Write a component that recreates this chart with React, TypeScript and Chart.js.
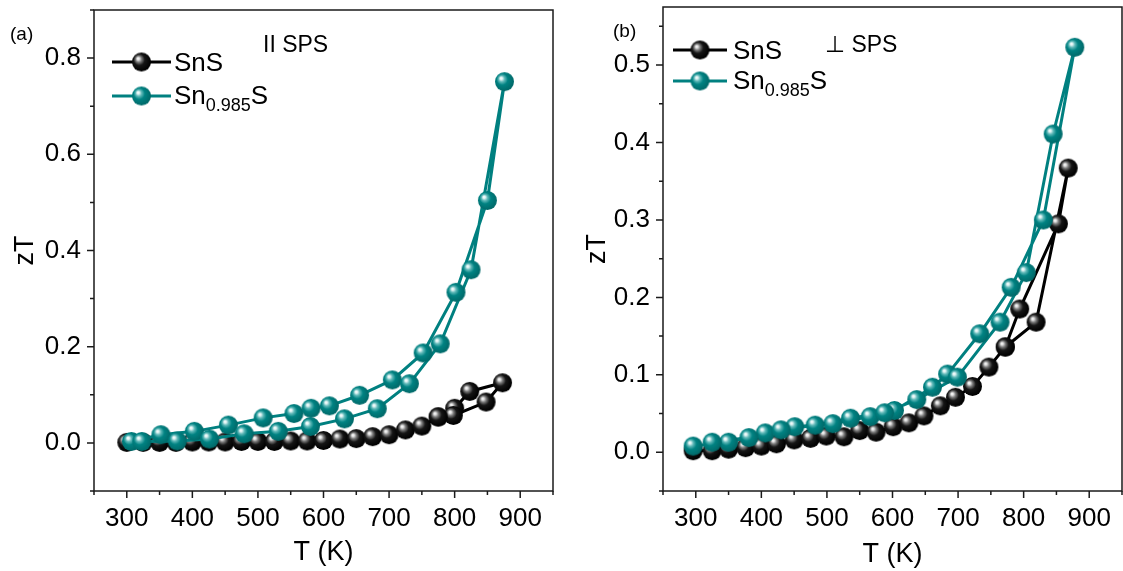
import React, { useEffect, useRef } from "react";
import { Chart, registerables } from "chart.js";

Chart.register(...registerables);

const FONT = '"Liberation Sans", Arial, Helvetica, sans-serif';
const TEAL = "#008080";
const BLACK = "#000000";

// ---------- Panel (a): parallel to SPS ----------
const A_SNS_T = [300, 325, 350, 375, 400, 425, 450, 475, 500, 525, 550, 575, 600, 625, 650, 675, 700, 725, 750, 775, 800, 823, 873, 848, 798, 775];
const A_SNS_ZT = [0.001, 0.001, 0.001, 0.001, 0.002, 0.002, 0.002, 0.003, 0.003, 0.003, 0.004, 0.004, 0.005, 0.008, 0.009, 0.013, 0.017, 0.027, 0.035, 0.054, 0.072, 0.107, 0.125, 0.085, 0.057, 0.054];
const A_SN985_T = [307, 352, 403, 455, 508, 555, 581, 609, 655, 705, 752, 802, 850, 876, 825, 778, 731, 682, 632, 580, 531, 479, 426, 377, 323];
const A_SN985_ZT = [0.003, 0.017, 0.024, 0.037, 0.052, 0.061, 0.072, 0.077, 0.099, 0.131, 0.187, 0.313, 0.504, 0.751, 0.36, 0.206, 0.123, 0.071, 0.05, 0.034, 0.024, 0.019, 0.008, 0.004, 0.003];

// ---------- Panel (b): perpendicular to SPS ----------
const B_SNS_T = [296, 325, 350, 376, 400, 423, 450, 475, 499, 526, 550, 575, 601, 625, 648, 673, 696, 722, 747, 772, 794, 853, 868, 819, 772];
const B_SNS_ZT = [0.002, 0.002, 0.004, 0.006, 0.008, 0.011, 0.016, 0.018, 0.021, 0.02, 0.028, 0.026, 0.033, 0.038, 0.047, 0.06, 0.071, 0.085, 0.11, 0.136, 0.185, 0.295, 0.367, 0.168, 0.136];
const B_SN985_T = [296, 350, 406, 451, 509, 566, 603, 661, 684, 733, 781, 830, 878, 845, 804, 764, 699, 637, 588, 536, 482, 430, 381, 325];
const B_SN985_ZT = [0.008, 0.013, 0.025, 0.033, 0.037, 0.046, 0.054, 0.084, 0.101, 0.153, 0.213, 0.3, 0.523, 0.411, 0.232, 0.168, 0.097, 0.068, 0.051, 0.044, 0.035, 0.029, 0.019, 0.013];

const X_TICKS = [300, 400, 500, 600, 700, 800, 900];
const A_Y_TICKS = [0.0, 0.2, 0.4, 0.6, 0.8];
const B_Y_TICKS = [0.0, 0.1, 0.2, 0.3, 0.4, 0.5];

const SERIES_NAMES = ["SnS", "Sn", "0.985", "S"];

function zip(xs: number[], ys: number[]) {
  return xs.map((x, i) => ({ x, y: ys[i] }));
}

function sphere(kind: "black" | "teal", r: number): HTMLCanvasElement {
  const size = Math.ceil(r * 2 + 2);
  const c = document.createElement("canvas");
  c.width = size;
  c.height = size;
  const ctx = c.getContext("2d")!;
  const cx = size / 2;
  const cy = size / 2;
  const g = ctx.createRadialGradient(cx - r * 0.38, cy - r * 0.38, 0, cx - r * 0.12, cy - r * 0.12, r * 1.08);
  if (kind === "black") {
    g.addColorStop(0, "#ffffff");
    g.addColorStop(0.12, "#e6e6e6");
    g.addColorStop(0.3, "#7a7a7a");
    g.addColorStop(0.55, "#151515");
    g.addColorStop(1, "#000000");
  } else {
    g.addColorStop(0, "#ffffff");
    g.addColorStop(0.12, "#e3f5f5");
    g.addColorStop(0.3, "#5fb8b8");
    g.addColorStop(0.55, "#008282");
    g.addColorStop(1, "#006a6a");
  }
  ctx.fillStyle = g;
  ctx.beginPath();
  ctx.arc(cx, cy, r, 0, Math.PI * 2);
  ctx.fill();
  return c;
}

interface PanelSpec {
  width: number;
  yAxisWidth: number;
  padRight: number;
  padTop: number;
  yMin: number;
  yMax: number;
  yMinorStep: number;
  yTicks: number[];
  yTitlePad: number;
  xTitlePad: number;
  sns: { x: number; y: number }[];
  sn985: { x: number; y: number }[];
  tag: string;
  tagX: number;
  tagY: number;
  note: string;
  noteX: number;
  noteY: number;
  legX1: number;
  legX2: number;
  legRow1: number;
  legRow2: number;
  legTextX: number;
  legBase1: number;
  legBase2: number;
}

function makeChart(canvas: HTMLCanvasElement, p: PanelSpec) {
  const blackBall = sphere("black", 9.5);
  const tealBall = sphere("teal", 9.5);

  const decor = {
    id: "decor",
    afterDraw(chart: any) {
      const { ctx, chartArea } = chart;
      const xs = chart.scales.x;
      const ys = chart.scales.y;
      ctx.save();
      // frame
      ctx.strokeStyle = "#1a1a1a";
      ctx.lineWidth = 1.5;
      ctx.strokeRect(chartArea.left, chartArea.top, chartArea.right - chartArea.left, chartArea.bottom - chartArea.top);
      // x ticks (major on labels, minor halfway)
      ctx.beginPath();
      for (let v = xs.min; v <= xs.max + 1e-6; v += 50) {
        const px = xs.getPixelForValue(v);
        const major = X_TICKS.indexOf(Math.round(v)) >= 0;
        ctx.moveTo(px, chartArea.bottom);
        ctx.lineTo(px, chartArea.bottom + (major ? 7 : 4));
      }
      // y ticks
      const n = Math.round((ys.max - ys.min) / p.yMinorStep);
      for (let i = 0; i <= n; i++) {
        const v = ys.min + i * p.yMinorStep;
        if (v > ys.max + 1e-9) break;
        const py = ys.getPixelForValue(v);
        const major = p.yTicks.some((t) => Math.abs(t - v) < 1e-6);
        ctx.moveTo(chartArea.left, py);
        ctx.lineTo(chartArea.left - (major ? 7 : 4), py);
      }
      ctx.stroke();

      // panel tag
      ctx.fillStyle = "#000";
      ctx.font = `19px ${FONT}`;
      ctx.textBaseline = "alphabetic";
      ctx.textAlign = "left";
      ctx.fillText(p.tag, p.tagX, p.tagY);
      // note
      ctx.font = `23px ${FONT}`;
      ctx.fillText(p.note, p.noteX, p.noteY);

      // legend
      const rows: [number, string, HTMLCanvasElement][] = [
        [p.legRow1, BLACK, blackBall],
        [p.legRow2, TEAL, tealBall],
      ];
      rows.forEach(([y, col, ball]) => {
        ctx.strokeStyle = col;
        ctx.lineWidth = 3;
        ctx.beginPath();
        ctx.moveTo(p.legX1, y);
        ctx.lineTo(p.legX2, y);
        ctx.stroke();
        const mx = (p.legX1 + p.legX2) / 2;
        ctx.drawImage(ball, mx - ball.width / 2, y - ball.height / 2);
      });
      ctx.fillStyle = "#000";
      ctx.font = `26px ${FONT}`;
      ctx.fillText(SERIES_NAMES[0], p.legTextX, p.legBase1);
      ctx.fillText(SERIES_NAMES[1], p.legTextX, p.legBase2);
      const w1 = ctx.measureText(SERIES_NAMES[1]).width;
      ctx.font = `18px ${FONT}`;
      ctx.fillText(SERIES_NAMES[2], p.legTextX + w1, p.legBase2 + 7);
      const w2 = ctx.measureText(SERIES_NAMES[2]).width;
      ctx.font = `26px ${FONT}`;
      ctx.fillText(SERIES_NAMES[3], p.legTextX + w1 + w2, p.legBase2);
      ctx.restore();
    },
  };

  return new Chart(canvas, {
    type: "scatter",
    data: {
      datasets: [
        {
          label: "Sn0.985S",
          data: p.sn985,
          showLine: true,
          borderColor: TEAL,
          borderWidth: 3,
          pointStyle: tealBall as any,
          pointRadius: 9.5,
          order: 0,
        },
        {
          label: "SnS",
          data: p.sns,
          showLine: true,
          borderColor: BLACK,
          borderWidth: 3,
          pointStyle: blackBall as any,
          pointRadius: 9.5,
          order: 1,
        },
      ],
    },
    options: {
      animation: false,
      responsive: false,
      maintainAspectRatio: false,
      layout: { autoPadding: false, padding: { left: 0, right: p.padRight, top: p.padTop, bottom: 0 } },
      plugins: { legend: { display: false }, tooltip: { enabled: false } },
      scales: {
        x: {
          type: "linear",
          min: 250,
          max: 950,
          afterBuildTicks: (s: any) => {
            s.ticks = X_TICKS.map((v) => ({ value: v }));
          },
          afterFit: (s: any) => {
            s.height = 80;
            s.paddingLeft = 0;
            s.paddingRight = 0;
            s.paddingTop = 0;
            s.paddingBottom = 0;
          },
          grid: { display: false, drawTicks: false },
          border: { display: false },
          ticks: {
            font: { family: FONT, size: 26 },
            color: "#000",
            padding: 12,
            maxRotation: 0,
            autoSkip: false,
            callback: (v: any) => String(v),
          },
          title: {
            display: true,
            text: "T (K)",
            font: { family: FONT, size: 27 },
            color: "#000",
            padding: { top: 0, bottom: p.xTitlePad },
          },
        },
        y: {
          type: "linear",
          min: p.yMin,
          max: p.yMax,
          afterBuildTicks: (s: any) => {
            s.ticks = p.yTicks.map((v) => ({ value: v }));
          },
          afterFit: (s: any) => {
            s.width = p.yAxisWidth;
            s.paddingLeft = 0;
            s.paddingRight = 0;
            s.paddingTop = 0;
            s.paddingBottom = 0;
          },
          grid: { display: false, drawTicks: false },
          border: { display: false },
          ticks: {
            font: { family: FONT, size: 26 },
            color: "#000",
            padding: 13,
            autoSkip: false,
            callback: (v: any) => Number(v).toFixed(1),
          },
          title: {
            display: true,
            text: "zT",
            font: { family: FONT, size: 27 },
            color: "#000",
            padding: { top: p.yTitlePad, bottom: 0 },
          },
        },
      },
    },
    plugins: [decor],
  } as any);
}

const PANEL_A: PanelSpec = {
  width: 560,
  yAxisWidth: 94,
  padRight: 7,
  padTop: 10,
  yMin: -0.1,
  yMax: 0.9,
  yMinorStep: 0.1,
  yTicks: A_Y_TICKS,
  yTitlePad: 9,
  xTitlePad: 2,
  sns: zip(A_SNS_T, A_SNS_ZT),
  sn985: zip(A_SN985_T, A_SN985_ZT),
  tag: "(a)",
  tagX: 10,
  tagY: 40,
  note: "II SPS",
  noteX: 263,
  noteY: 52,
  legX1: 112,
  legX2: 171,
  legRow1: 62,
  legRow2: 96,
  legTextX: 174,
  legBase1: 71,
  legBase2: 104,
};

const PANEL_B: PanelSpec = {
  width: 563,
  yAxisWidth: 103,
  padRight: 1,
  padTop: 7,
  yMin: -0.05,
  yMax: 0.575,
  yMinorStep: 0.05,
  yTicks: B_Y_TICKS,
  yTitlePad: 21,
  xTitlePad: 0,
  sns: zip(B_SNS_T, B_SNS_ZT),
  sn985: zip(B_SN985_T, B_SN985_ZT),
  tag: "(b)",
  tagX: 53,
  tagY: 37,
  note: "\u22A5 SPS",
  noteX: 265,
  noteY: 52,
  legX1: 113,
  legX2: 167,
  legRow1: 50,
  legRow2: 81,
  legTextX: 173,
  legBase1: 59,
  legBase2: 89,
};

function Panel({ spec, left }: { spec: PanelSpec; left: number }) {
  const ref = useRef<HTMLCanvasElement | null>(null);
  useEffect(() => {
    if (!ref.current) return;
    const chart = makeChart(ref.current, spec);
    return () => chart.destroy();
  }, [spec]);
  return (
    <canvas
      ref={ref}
      width={spec.width}
      height={571}
      style={{ position: "absolute", left, top: 0, width: spec.width, height: 571 }}
    />
  );
}

export default function App() {
  return (
    <div style={{ position: "fixed", left: 0, top: 0, width: 1123, height: 571, background: "#fff", overflow: "hidden" }}>
      <Panel spec={PANEL_A} left={0} />
      <Panel spec={PANEL_B} left={560} />
    </div>
  );
}
